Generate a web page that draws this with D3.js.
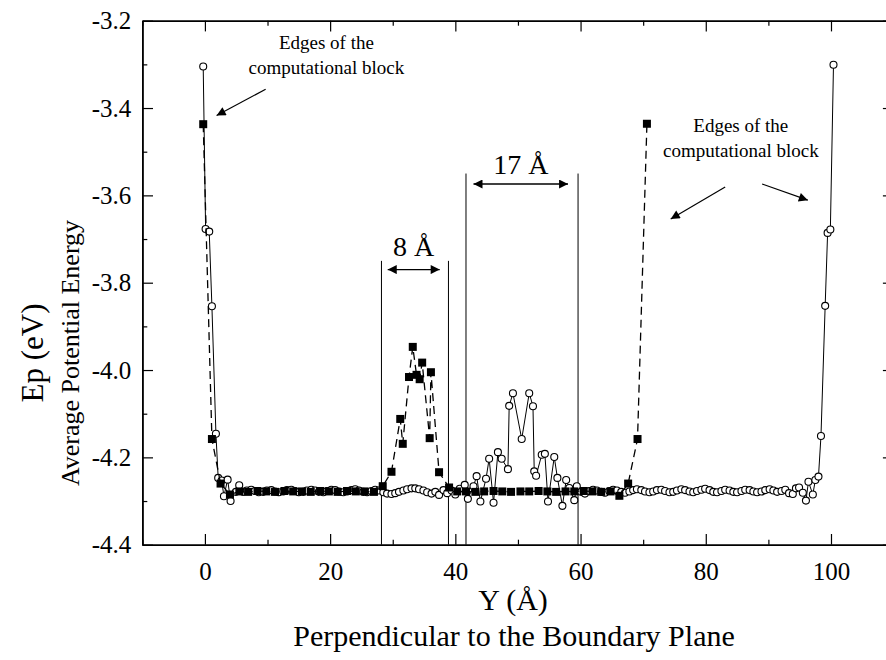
<!DOCTYPE html>
<html>
<head>
<meta charset="utf-8">
<script src="https://cdn.jsdelivr.net/npm/d3@7"></script>
<style>
  body { margin: 0; background: #fff; }
  svg { display: block; }
  text { font-family: "Liberation Serif", "Times New Roman", serif; fill: #000; }
</style>
</head>
<body>
<svg id="chart" width="886" height="660"></svg>
<script>
// Average potential energy per layer, open circles (solid line), position in Å
const circlePos = [
  -0.27, 0.11, 0.69, 1.12, 1.76, 2.12, 2.67, 3.04, 3.63, 4.10, 4.95, 5.48,
  6.1, 6.7, 7.4, 8.0, 8.6, 9.3, 9.9, 10.6, 11.2, 11.8, 12.5, 13.1, 13.8, 14.4, 15.0,
  15.7, 16.3, 17.0, 17.6, 18.2, 18.9, 19.5, 20.2, 20.8, 21.4, 22.1, 22.7, 23.4, 24.0,
  24.6, 25.3, 25.9, 26.6, 27.2, 27.8, 28.5, 29.1, 29.8, 30.4, 31.0, 31.7, 32.3, 33.0,
  33.6, 34.2, 34.9, 35.5, 36.2, 36.8, 37.4, 38.1, 38.7, 39.4, 40.0, 40.7,
  41.5, 42.0, 42.9, 43.4, 44.0, 44.9, 45.4, 46.1, 46.8, 47.4, 48.4, 48.6, 49.2, 50.6,
  51.8, 52.4, 52.6, 52.9, 53.8, 54.3, 54.8, 55.8, 56.3, 57.1, 57.7, 58.2, 59.0, 59.4,
  60.1, 60.7, 61.4, 62.0, 62.6, 63.3, 63.9, 64.6, 65.2, 65.8, 66.5, 67.1, 67.8, 68.4,
  69.0, 69.7, 70.3, 71.0, 71.6, 72.2, 72.9, 73.5, 74.2, 74.8, 75.4, 76.1, 76.7, 77.4,
  78.0, 78.6, 79.3, 79.9, 80.6, 81.2, 81.8, 82.5, 83.1, 83.8, 84.4, 85.0, 85.7, 86.3,
  87.0, 87.6, 88.2, 88.9, 89.5, 90.2, 90.8, 91.4, 92.1, 92.7, 93.3, 93.9, 94.4, 94.9,
  95.5, 96.0, 96.4, 97.1, 97.5, 98.0, 98.4, 99.07, 99.46, 99.9, 100.4
];
const circleEp = [
  -3.305, -3.677, -3.683, -3.854, -4.146, -4.247, -4.253, -4.289, -4.251, -4.300, -4.279, -4.264,
  -4.279, -4.276, -4.274, -4.277, -4.280, -4.279, -4.276, -4.275, -4.278, -4.280, -4.278, -4.275, -4.274, -4.277, -4.280,
  -4.279, -4.276, -4.274, -4.276, -4.279, -4.280, -4.277, -4.274, -4.275, -4.278, -4.280, -4.278, -4.275, -4.273,
  -4.276, -4.279, -4.280, -4.277, -4.274, -4.276, -4.280, -4.283, -4.284, -4.282, -4.279, -4.276, -4.273, -4.271,
  -4.271, -4.273, -4.276, -4.280, -4.283, -4.279, -4.286, -4.275, -4.282, -4.276, -4.285, -4.272,
  -4.263, -4.295, -4.266, -4.243, -4.301, -4.249, -4.203, -4.304, -4.188, -4.203, -4.227, -4.082, -4.053, -4.158,
  -4.053, -4.083, -4.232, -4.242, -4.194, -4.192, -4.301, -4.199, -4.247, -4.311, -4.252, -4.270, -4.298, -4.266,
  -4.279, -4.283, -4.277, -4.274, -4.276, -4.279, -4.281, -4.277, -4.274, -4.276, -4.279, -4.281, -4.278, -4.275,
  -4.273, -4.275, -4.278, -4.280, -4.278, -4.275, -4.274, -4.277, -4.280, -4.279, -4.276, -4.273, -4.275, -4.278,
  -4.280, -4.277, -4.274, -4.272, -4.275, -4.279, -4.280, -4.277, -4.274, -4.276, -4.279, -4.280, -4.277, -4.274,
  -4.275, -4.278, -4.280, -4.278, -4.275, -4.273, -4.276, -4.279, -4.277, -4.274, -4.282, -4.284, -4.271, -4.269,
  -4.281, -4.299, -4.256, -4.285, -4.252, -4.244, -4.151, -3.853, -3.686, -3.678, -3.301
];

// Average potential energy per layer, filled squares (dashed line)
const squarePos = [
  -0.27, 1.12, 2.5, 4.0, 5.5, 6.9, 8.4, 9.8, 11.2, 12.7, 14.1, 15.5, 16.9, 18.4, 19.8,
  21.2, 22.7, 24.1, 25.5, 27.0, 28.4, 29.8, 31.2, 31.6, 32.6, 33.2, 33.8, 34.3, 34.7,
  35.9, 36.1, 37.4, 39.0, 40.3, 41.7, 43.2, 44.6, 46.1, 47.5, 48.9, 50.4, 51.8, 53.3,
  54.7, 56.1, 57.6, 59.0, 60.5, 61.9, 63.3, 64.8, 66.2, 67.6, 69.1, 70.6
];
const squareEp = [
  -3.437, -4.158, -4.260, -4.285, -4.278, -4.279, -4.277, -4.278, -4.279, -4.277, -4.278, -4.278, -4.279, -4.277, -4.278,
  -4.279, -4.277, -4.278, -4.278, -4.279, -4.266, -4.233, -4.112, -4.169, -4.016, -3.947, -4.011, -4.021, -3.983,
  -4.156, -4.005, -4.234, -4.269, -4.278, -4.278, -4.279, -4.278, -4.277, -4.278, -4.279, -4.278, -4.278, -4.277,
  -4.278, -4.279, -4.278, -4.278, -4.277, -4.278, -4.279, -4.278, -4.288, -4.260, -4.158, -3.436
];

// Axis ticks
const xMajorTicks = [0, 20, 40, 60, 80, 100];
const xTickLabels = ["0", "20", "40", "60", "80", "100"];
const xMinorTicks = [-10, 10, 30, 50, 70, 90, 110];
const yMajorTicks = [-3.2, -3.4, -3.6, -3.8, -4.0, -4.2, -4.4];
const yTickLabels = ["-3.2", "-3.4", "-3.6", "-3.8", "-4.0", "-4.2", "-4.4"];
const yMinorTicks = [-3.3, -3.5, -3.7, -3.9, -4.1, -4.3];

// Boundary-region guide lines: position (Å) and top energy (eV)
const guidePos = [28.2, 38.9, 41.7, 59.6];
const guideTop = [-3.75, -3.75, -3.55, -3.55];

// Width markers: label, arrow ends (Å), arrow level (eV), label baseline (eV)
const widthLabels = ["8 Å", "17 Å"];
const widthFrom = [29.2, 42.9];
const widthTo = [37.5, 58.0];
const widthArrowEp = [-3.770, -3.574];
const widthTextEp = [-3.738, -3.551];

// Edge notes
const edgeLines = [["Edges of the", "computational block"], ["Edges of the", "computational block"]];
const edgeTextPos = [19.4, 85.6];
const edgeTextEp = [[-3.265, -3.322], [-3.455, -3.512]];
const edgeArrows = [
  [[9.7, -3.357], [1.87, -3.417]],
  [[83.1, -3.581], [74.4, -3.654]],
  [[89.0, -3.574], [96.3, -3.611]]
];

const svg = d3.select("#chart");
const x = d3.scaleLinear().domain([-10, 110]).range([142.3, 893.6]);
const y = d3.scaleLinear().domain([-4.4, -3.2]).range([544.7, 20.7]);

const circles = circlePos.map((p, i) => [p, circleEp[i]]);
const squares = squarePos.map((p, i) => [p, squareEp[i]]);
const line = d3.line().x(d => x(d[0])).y(d => y(d[1]));

// arrowhead marker
const defs = svg.append("defs");
defs.append("marker")
  .attr("id", "head").attr("viewBox", "0 0 10 10")
  .attr("refX", 10).attr("refY", 5)
  .attr("markerUnits", "userSpaceOnUse")
  .attr("markerWidth", 14).attr("markerHeight", 9)
  .attr("orient", "auto-start-reverse")
  .append("path").attr("d", "M0,0 L10,5 L0,10 Z").attr("fill", "#000");

// axes: ticks pointing inward on all four sides
function styleAxis(g) {
  g.selectAll("path.domain").attr("stroke", "#000").attr("stroke-width", 1.6);
  g.selectAll(".tick line").attr("stroke", "#000").attr("stroke-width", 1.2);
  g.selectAll(".tick text").attr("font-family", "Liberation Serif, serif").attr("font-size", 25).attr("fill", "#000");
}
const bottomAxis = svg.append("g").attr("transform", `translate(0,${y(-4.4)})`)
  .call(d3.axisBottom(x).tickValues(xMajorTicks).tickFormat((d, i) => xTickLabels[i]).tickSize(-10.7).tickSizeOuter(0).tickPadding(17.5));
styleAxis(bottomAxis);
svg.append("g").attr("transform", `translate(0,${y(-4.4)})`)
  .call(d3.axisBottom(x).tickValues(xMinorTicks).tickFormat("").tickSize(-5).tickSizeOuter(0)).call(styleAxis);
svg.append("g").attr("transform", `translate(0,${y(-3.2)})`)
  .call(d3.axisTop(x).tickValues(xMajorTicks).tickFormat("").tickSize(-10.7).tickSizeOuter(0)).call(styleAxis);
svg.append("g").attr("transform", `translate(0,${y(-3.2)})`)
  .call(d3.axisTop(x).tickValues(xMinorTicks).tickFormat("").tickSize(-5).tickSizeOuter(0)).call(styleAxis);
const leftAxis = svg.append("g").attr("transform", `translate(${x(-10)},0)`)
  .call(d3.axisLeft(y).tickValues(yMajorTicks).tickFormat((d, i) => yTickLabels[i]).tickSize(-10.7).tickSizeOuter(0).tickPadding(11));
styleAxis(leftAxis);
svg.append("g").attr("transform", `translate(${x(-10)},0)`)
  .call(d3.axisLeft(y).tickValues(yMinorTicks).tickFormat("").tickSize(-5).tickSizeOuter(0)).call(styleAxis);
svg.append("g").attr("transform", `translate(${x(110)},0)`)
  .call(d3.axisRight(y).tickValues(yMajorTicks).tickFormat("").tickSize(-10.7).tickSizeOuter(0)).call(styleAxis);
svg.append("g").attr("transform", `translate(${x(110)},0)`)
  .call(d3.axisRight(y).tickValues(yMinorTicks).tickFormat("").tickSize(-5).tickSizeOuter(0)).call(styleAxis);

// axis titles
svg.append("text").attr("x", 513).attr("y", 610).attr("text-anchor", "middle")
  .attr("font-size", 30).text("Y (Å)");
svg.append("text").attr("x", 514).attr("y", 646).attr("text-anchor", "middle")
  .attr("font-size", 30).text("Perpendicular to the Boundary Plane");
svg.append("text").attr("transform", "translate(43,353) rotate(-90)").attr("text-anchor", "middle")
  .attr("font-size", 31).text("Ep (eV)");
svg.append("text").attr("transform", "translate(79,353) rotate(-90)").attr("text-anchor", "middle")
  .attr("font-size", 26).text("Average Potential Energy");

// boundary-region guide lines
svg.append("g").selectAll("line").data(guidePos).join("line")
  .attr("x1", d => x(d)).attr("x2", d => x(d))
  .attr("y1", (d, i) => y(guideTop[i])).attr("y2", y(-4.4))
  .attr("stroke", "#000").attr("stroke-width", 1);

// width arrows and labels
widthLabels.forEach((t, i) => {
  svg.append("line")
    .attr("x1", x(widthFrom[i])).attr("x2", x(widthTo[i]))
    .attr("y1", y(widthArrowEp[i])).attr("y2", y(widthArrowEp[i]))
    .attr("stroke", "#000").attr("stroke-width", 1.3)
    .attr("marker-start", "url(#head)").attr("marker-end", "url(#head)");
  svg.append("text")
    .attr("x", x((widthFrom[i] + widthTo[i]) / 2)).attr("y", y(widthTextEp[i]))
    .attr("text-anchor", "middle").attr("font-size", 28).text(t);
});

// edge notes
edgeLines.forEach((lines, i) => {
  lines.forEach((t, j) => {
    svg.append("text").attr("x", x(edgeTextPos[i])).attr("y", y(edgeTextEp[i][j]))
      .attr("text-anchor", "middle").attr("font-size", 19).text(t);
  });
});
svg.append("g").selectAll("line").data(edgeArrows).join("line")
  .attr("x1", d => x(d[0][0])).attr("y1", d => y(d[0][1]))
  .attr("x2", d => x(d[1][0])).attr("y2", d => y(d[1][1]))
  .attr("stroke", "#000").attr("stroke-width", 1.2)
  .attr("marker-end", "url(#head)");

// open-circle series
svg.append("path").datum(circles).attr("d", line)
  .attr("fill", "none").attr("stroke", "#000").attr("stroke-width", 1);
svg.append("g").selectAll("circle").data(circles).join("circle")
  .attr("cx", d => x(d[0])).attr("cy", d => y(d[1])).attr("r", 3.5)
  .attr("fill", "#fff").attr("stroke", "#000").attr("stroke-width", 1.1);

// filled-square series
svg.append("path").datum(squares).attr("d", line)
  .attr("fill", "none").attr("stroke", "#000").attr("stroke-width", 1.3)
  .attr("stroke-dasharray", "8,5");
svg.append("g").selectAll("rect").data(squares).join("rect")
  .attr("x", d => x(d[0]) - 4).attr("y", d => y(d[1]) - 4)
  .attr("width", 8).attr("height", 8).attr("fill", "#000");
</script>
</body>
</html>
